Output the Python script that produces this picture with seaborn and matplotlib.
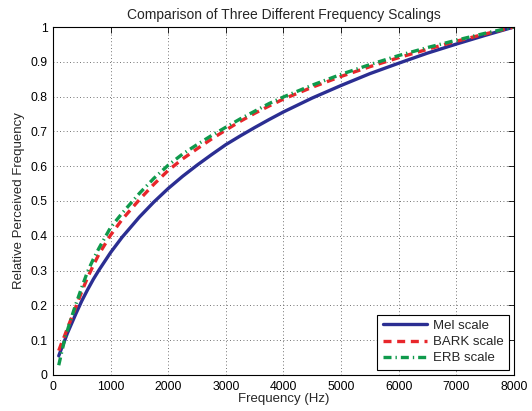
import matplotlib
matplotlib.use("Agg")
import matplotlib.pyplot as plt
import seaborn as sns
import pandas as pd

freq = [100, 150, 200, 250, 300, 400, 500, 600, 700, 800, 1000, 1200, 1500,
        1750, 2000, 2250, 2500, 2750, 3000, 3250, 3500, 3750, 4000, 4500,
        5000, 5500, 6000, 6500, 7000, 7500, 8000]
mel = [0.055, 0.077, 0.098, 0.120, 0.139, 0.177, 0.213, 0.245, 0.275, 0.302,
       0.352, 0.396, 0.454, 0.497, 0.536, 0.571, 0.603, 0.633, 0.662, 0.687,
       0.711, 0.734, 0.756, 0.796, 0.832, 0.866, 0.896, 0.925, 0.951, 0.976,
       1.000]
bark = [0.070, 0.092, 0.112, 0.134, 0.155, 0.197, 0.240, 0.280, 0.315, 0.348,
        0.402, 0.447, 0.504, 0.548, 0.588, 0.621, 0.650, 0.678, 0.704, 0.729,
        0.752, 0.773, 0.793, 0.827, 0.858, 0.886, 0.912, 0.936, 0.959, 0.980,
        1.000]
erb = [0.028, 0.065, 0.100, 0.128, 0.155, 0.205, 0.252, 0.297, 0.333, 0.365,
       0.424, 0.465, 0.522, 0.565, 0.603, 0.635, 0.662, 0.688, 0.712, 0.736,
       0.758, 0.780, 0.799, 0.833, 0.864, 0.892, 0.918, 0.941, 0.962, 0.982,
       1.000]

labels = ["Mel scale", "BARK scale", "ERB scale"]
colors = ["#2b2e92", "#e8262b", "#0f9a4c"]

sns.set_style("white")
plt.rcParams["font.family"] = ["Liberation Sans", "DejaVu Sans"]

fig = plt.figure(figsize=(5.32, 4.11), dpi=100)
ax = fig.add_axes([0.0996, 0.0876, 0.8665, 0.8467])

n = len(freq)
df = pd.DataFrame({"freq": freq * 3,
                   "val": mel + bark + erb,
                   "scale": [labels[0]] * n + [labels[1]] * n + [labels[2]] * n})

styles = [dict(linestyle="-"), dict(linestyle=(0, (2.4, 1.7))),
          dict(linestyle=(0, (2.4, 1.2, 0.4, 1.2)))]
for lab, col, st in zip(labels, colors, styles):
    sub = df[df["scale"] == lab]
    sns.lineplot(data=sub, x="freq", y="val", ax=ax, color=col, lw=2.4,
                 label=lab, **st)

ax.set_xlim(0, 8000)
ax.set_ylim(0, 1)
ax.set_xticks(range(0, 8001, 1000))
ax.set_yticks([i / 10 for i in range(11)])
ax.set_yticklabels(["0", "0.1", "0.2", "0.3", "0.4", "0.5", "0.6", "0.7",
                    "0.8", "0.9", "1"])
ax.grid(True, linestyle=(0, (1, 3)), color="#444444", linewidth=0.6)
ax.tick_params(direction="in", length=4, width=0.6, labelsize=8.8,
               top=True, right=True, pad=4, colors="black")
for sp in ax.spines.values():
    sp.set_color("black")
    sp.set_linewidth(0.8)

ax.set_xlabel("Frequency (Hz)", fontsize=9.5, labelpad=0)
ax.set_ylabel("Relative Perceived Frequency", fontsize=9.5, labelpad=4)
ax.set_title("Comparison of Three Different Frequency Scalings", fontsize=10,
             pad=6)

leg = ax.legend(loc="lower right", fontsize=9.5, frameon=True, fancybox=False,
                edgecolor="black", framealpha=1, handlelength=3.4,
                borderaxespad=0.4, labelspacing=0.3, handletextpad=0.4,
                borderpad=0.4)
leg.get_frame().set_linewidth(0.8)

fig.savefig("out.png", dpi=100)
